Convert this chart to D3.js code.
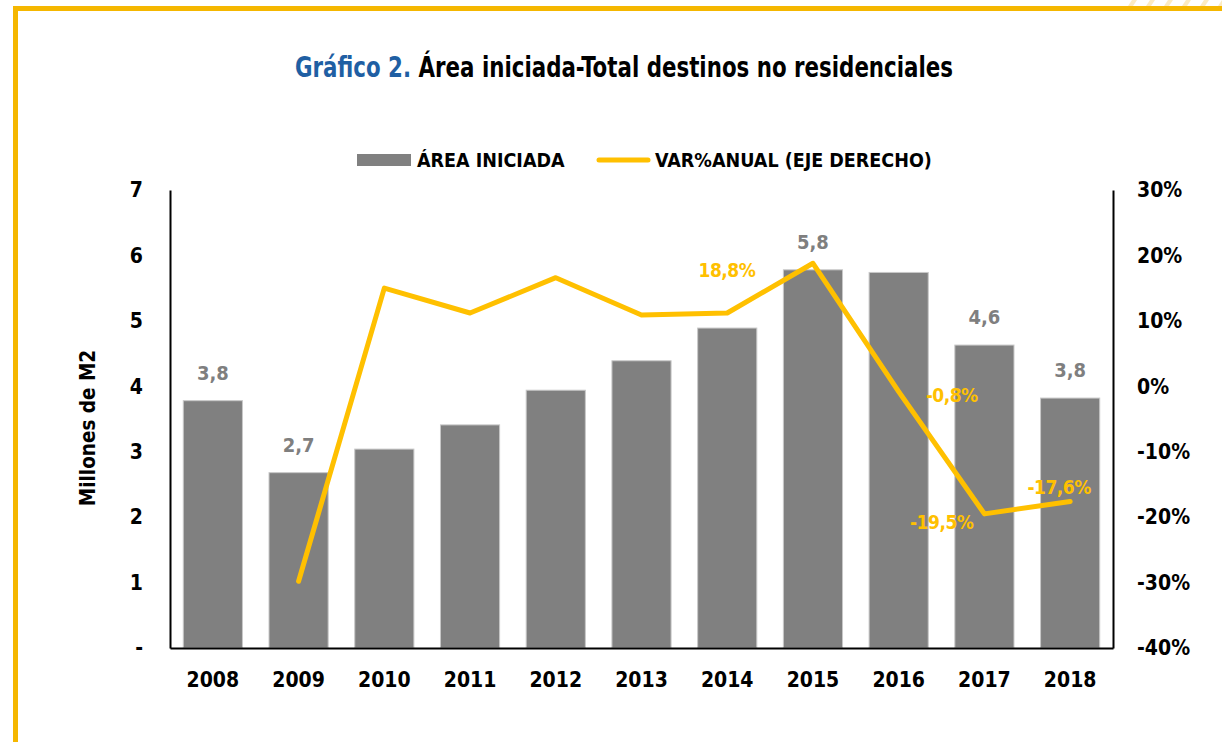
<!DOCTYPE html>
<html>
<head>
<meta charset="utf-8">
<script src="https://cdn.jsdelivr.net/npm/d3@7"></script>
<style>
  body { margin: 0; background: #fff; }
  svg { display: block; }
  .cond { font-family: "DejaVu Sans Condensed", "DejaVu Sans"; font-stretch: condensed; font-weight: bold; }
  .axis path { stroke: #000; stroke-width: 2px; }
  .axis line { display: none; }
</style>
</head>
<body>
<svg class="d3-content"></svg>
<script>
//data
const years = [2008, 2009, 2010, 2011, 2012, 2013, 2014, 2015, 2016, 2017, 2018]
const area = [3.78, 2.68, 3.04, 3.41, 3.94, 4.39, 4.89, 5.78, 5.74, 4.63, 3.82]
const varPct = [null, -29.8, 15.0, 11.2, 16.6, 10.9, 11.2, 18.8, -0.8, -19.5, -17.6]
const leftTicks = [0, 1, 2, 3, 4, 5, 6, 7]
const rightTicks = [-40, -30, -20, -10, 0, 10, 20, 30]
const areaLabelYears = [2008, 2009, 2015, 2017, 2018]
const pctLabelYears = [2015, 2016, 2017, 2018]

const barColor = '#808080'
const lineColor = '#FFC000'

//dimensions
const w = 1222
const h = 742
const margin = { top: 190, right: 109, bottom: 94, left: 170 }

const svg = d3.select('.d3-content')
    .attr('width', w)
    .attr('height', h)

//frame
const frameColor = '#F5B700'
svg.append('rect').attr('x', 13).attr('y', 6).attr('width', w - 13).attr('height', 5).attr('fill', frameColor)
svg.append('rect').attr('x', 13).attr('y', 6).attr('width', 5).attr('height', h - 6).attr('fill', frameColor)
d3.range(8).forEach(i => {
    const x0 = 1128 + i * 18
    svg.append('path')
        .attr('d', `M${x0},6 L${x0 + 5},6 L${x0 + 9},0 L${x0 + 4},0 Z`)
        .attr('fill', '#FBE3A6')
        .attr('opacity', 0.7)
})

//scales
const xScale = d3.scaleBand()
    .domain(years)
    .range([margin.left, w - margin.right])
    .paddingInner(0.31)
    .paddingOuter(0.155)
const yScale = d3.scaleLinear()
    .domain([0, 7])
    .range([h - margin.bottom, margin.top])
const y2Scale = d3.scaleLinear()
    .domain([-40, 30])
    .range([h - margin.bottom, margin.top])

//title (squeezed to the width of the condensed original)
const titleG = svg.append('g')
const title = titleG.append('text')
    .attr('class', 'cond')
    .attr('x', 0)
    .attr('y', 0)
    .attr('text-anchor', 'middle')
    .style('font-size', '29px')
title.append('tspan').attr('fill', '#1F5FA3').text('Gráfico 2. ')
title.append('tspan').attr('fill', '#000').text('Área iniciada-Total destinos no residenciales')
const titleLen = title.node().getComputedTextLength()
titleG.attr('transform', `translate(624, 77) scale(${658 / titleLen}, 1)`)

//legend
svg.append('rect')
    .attr('x', 357).attr('y', 154).attr('width', 54).attr('height', 12)
    .attr('fill', barColor)
svg.append('text')
    .attr('class', 'cond')
    .attr('x', 417).attr('y', 167)
    .style('font-size', '19.5px')
    .text('ÁREA INICIADA')
svg.append('line')
    .attr('x1', 599).attr('x2', 648).attr('y1', 160).attr('y2', 160)
    .attr('stroke', lineColor).attr('stroke-width', 5).attr('stroke-linecap', 'round')
svg.append('text')
    .attr('class', 'cond')
    .attr('x', 655).attr('y', 167)
    .style('font-size', '19.5px')
    .text('VAR%ANUAL (EJE DERECHO)')

//bars
svg.append('g')
    .selectAll('rect')
    .data(years)
    .join('rect')
    .attr('x', d => xScale(d))
    .attr('y', (d, i) => yScale(area[i]))
    .attr('width', xScale.bandwidth())
    .attr('height', (d, i) => yScale(0) - yScale(area[i]))
    .attr('fill', barColor)
    .attr('stroke', '#c8c8c8')
    .attr('stroke-width', 1)

//axes
const yAxis = d3.axisLeft(yScale)
    .tickValues(leftTicks)
    .tickSize(0)
    .tickPadding(27)
    .tickFormat(d => d === 0 ? '-' : d)
svg.append('g')
    .attr('class', 'axis cond')
    .attr('transform', `translate(${margin.left}, 0)`)
    .call(yAxis)
const y2Axis = d3.axisRight(y2Scale)
    .tickValues(rightTicks)
    .tickSize(0)
    .tickPadding(24)
    .tickFormat(d => d + '%')
svg.append('g')
    .attr('class', 'axis cond')
    .attr('transform', `translate(${w - margin.right}, 0)`)
    .call(y2Axis)
const xAxis = d3.axisBottom(xScale)
    .tickSize(0)
    .tickPadding(24)
svg.append('g')
    .attr('class', 'axis cond')
    .attr('transform', `translate(0, ${h - margin.bottom})`)
    .call(xAxis)
svg.selectAll('.axis text')
    .attr('fill', '#000')
    .style('font-size', '21px')
    .style('font-family', '"DejaVu Sans Condensed", "DejaVu Sans"')
    .style('font-weight', 'bold')

//axis label
svg.append('text')
    .attr('class', 'cond')
    .attr('transform', 'rotate(-90)')
    .attr('x', -428)
    .attr('y', 95)
    .attr('text-anchor', 'middle')
    .style('font-size', '20.5px')
    .text('Millones de M2')

//line
const cx = d => xScale(d) + xScale.bandwidth() / 2
const line = d3.line()
    .defined((d, i) => varPct[i] !== null)
    .x(d => cx(d))
    .y((d, i) => y2Scale(varPct[i]))
svg.append('path')
    .attr('d', line(years))
    .attr('fill', 'none')
    .attr('stroke', lineColor)
    .attr('stroke-width', 5)
    .attr('stroke-linejoin', 'round')
    .attr('stroke-linecap', 'round')

//labels
const fmt = v => v.toFixed(1).replace('.', ',')
svg.append('g')
    .selectAll('text')
    .data(areaLabelYears)
    .join('text')
    .attr('class', 'cond')
    .attr('x', d => cx(d))
    .attr('y', d => yScale(area[years.indexOf(d)]) - 21)
    .attr('text-anchor', 'middle')
    .attr('fill', '#7F7F7F')
    .style('font-size', '20px')
    .text(d => fmt(area[years.indexOf(d)]))

const pctPlace = {
    2015: { dx: -86, dy: 14, anchor: 'middle' },
    2016: { dx: 27, dy: 10, anchor: 'start' },
    2017: { dx: -11, dy: 15, anchor: 'end' },
    2018: { dx: -11, dy: -7, anchor: 'middle' }
}
svg.append('g')
    .selectAll('text')
    .data(pctLabelYears)
    .join('text')
    .attr('class', 'cond')
    .attr('x', d => cx(d) + pctPlace[d].dx)
    .attr('y', d => y2Scale(varPct[years.indexOf(d)]) + pctPlace[d].dy)
    .attr('text-anchor', d => pctPlace[d].anchor)
    .attr('fill', lineColor)
    .style('font-size', '19px')
    .style('letter-spacing', '-0.5px')
    .text(d => fmt(varPct[years.indexOf(d)]) + '%')
</script>
</body>
</html>
